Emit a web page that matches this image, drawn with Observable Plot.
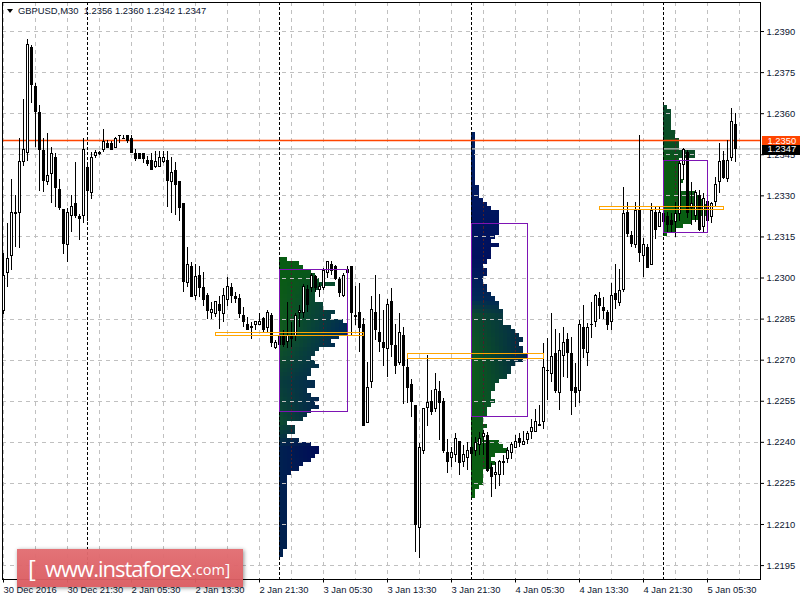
<!DOCTYPE html>
<html>
<head>
<meta charset="utf-8">
<script src="https://cdn.jsdelivr.net/npm/d3@7"></script>
<script src="https://cdn.jsdelivr.net/npm/@observablehq/plot@0.6"></script>
<style>
html,body{margin:0;padding:0;background:#fff;}
#wrap{position:relative;width:800px;height:600px;overflow:hidden;font-family:"Liberation Sans",Arial,sans-serif;}
#wrap svg{position:absolute;left:0;top:0;display:block;max-width:none;}
#head{position:absolute;left:18px;top:4px;font-size:9.4px;line-height:13px;color:#0b1530;white-space:pre;}
#tri{position:absolute;left:7px;top:9px;width:0;height:0;border-left:3.5px solid transparent;border-right:3.5px solid transparent;border-top:4px solid #000;}
#mark{position:absolute;left:17px;top:549px;width:226px;height:38px;background:linear-gradient(#e26e72,#db5c61);box-shadow:1px 1px 4px rgba(0,0,0,.45);color:#fff;font-family:"Open Sans",sans-serif;white-space:pre;opacity:.96;}
#mark span{position:absolute;top:3px;line-height:32px;}
</style>
</head>
<body>
<div id="wrap">
<div id="chart"></div>
<div id="tri"></div>
<div id="head">GBPUSD,M30  1.2356 1.2360 1.2342 1.2347</div>
<div id="mark"><span style="left:11px;font-size:24px;">[</span><span style="left:28px;font-size:22px;letter-spacing:-1px">www.instaforex</span><span style="left:175px;font-size:14.5px;top:5px">.com</span><span style="left:208px;font-size:16px;top:5px">]</span></div>
</div>
<script>
// Candle values: points above 1.2 (1 point = 0.00001)
const opens=[2881,3017,3079,3236,3239,3425,3458,3841,3699,3601,
3462,3349,3378,3440,3320,3250,3122,3228,3272,3221,
3228,3400,3309,3447,3451,3466,3491,3491,3476,3520,
3509,3520,3509,3451,3451,3451,3429,3429,3407,3407,
3425,3429,3349,3389,3352,3272,2980,3042,2936,3009,
2962,2933,2871,2867,2900,2867,2918,2962,2929,2922,
2860,2830,2820,2830,2830,2852,2816,2860,2746,2790,
2790,2768,2790,2787,2871,2871,2955,2965,3002,2958,
2962,3017,3049,3042,2991,2936,3031,3042,2860,2871,
2830,2469,2619,2871,2801,2761,2739,2911,2750,2688,
2790,2670,2611,2531,2089,2367,2527,2549,2520,2582,
2549,2360,2341,2352,2400,2327,2341,2378,2367,2389,
2418,2422,2308,2279,2279,2323,2338,2360,2378,2411,
2392,2407,2436,2436,2462,2473,2662,2648,2721,2579,
2717,2772,2721,2600,2586,2819,2728,2830,2838,2922,
2892,2871,2838,2940,2907,2958,3239,3152,3122,3246,
3079,3111,3049,3239,3188,3232,3221,3210,3206,3232,
3411,3458,3257,3228,3301,3188,3276,3221,3276,3349,
3429,3360,3440,3560];
const closes=[3009,3071,3239,3232,3422,3469,3849,3706,3608,3466,
3356,3371,3451,3327,3257,3126,3239,3261,3228,3217,
3469,3316,3440,3458,3458,3498,3476,3466,3509,3517,
3506,3502,3458,3436,3436,3436,3418,3396,3422,3440,
3440,3356,3382,3338,3257,2987,3049,2929,3002,2965,
2918,2878,2882,2911,2878,2933,2969,2936,2925,2867,
2838,2809,2816,2841,2841,2809,2871,2761,2761,2754,
2757,2790,2776,2860,2878,2969,2900,3009,2965,2969,
3027,3060,3027,2998,2947,3009,3017,2871,2856,2816,
2458,2600,2882,2809,2768,2746,2900,2757,2677,2801,
2677,2597,2546,2097,2381,2520,2542,2509,2590,2542,
2367,2327,2360,2411,2323,2352,2370,2356,2396,2411,
2432,2297,2272,2287,2327,2327,2367,2392,2400,2396,
2400,2432,2451,2473,2458,2670,2659,2710,2586,2732,
2761,2728,2586,2579,2830,2739,2819,2827,2933,2896,
2878,2827,2933,2918,2951,3232,3159,3126,3243,3090,
3122,3038,3246,3177,3239,3206,3195,3195,3235,3418,
3469,3239,3272,3312,3177,3290,3210,3272,3341,3422,
3367,3429,3571,3470];
const highs=[3090,3199,3360,3301,3509,3652,3871,3849,3710,3630,
3509,3528,3476,3455,3360,3250,3254,3301,3422,3232,
3509,3411,3458,3466,3462,3542,3502,3498,3513,3520,
3520,3520,3520,3469,3451,3451,3444,3455,3462,3462,
3462,3462,3440,3422,3352,3272,3111,3057,3049,3042,
3020,2944,2911,2911,2933,2962,3002,2980,2947,2940,
2892,2856,2838,2841,2871,2856,2882,2871,2772,2809,
2809,2911,2838,2871,2900,2976,2973,3017,3009,2980,
3035,3060,3060,3046,3002,3017,3042,3042,2969,2980,
2852,2692,2933,3009,2940,2882,2922,2962,2830,2871,
2819,2703,2630,2531,2396,2524,2717,2590,2652,2622,
2560,2411,2381,2432,2400,2389,2400,2414,2418,2436,
2444,2436,2323,2327,2334,2352,2381,2400,2425,2432,
2440,2440,2484,2520,2535,2761,2779,2871,2812,2798,
2819,2798,2783,2688,2845,2900,2834,2911,2940,2947,
2929,2882,2980,3049,3031,3330,3276,3170,3276,3520,
3144,3122,3272,3257,3257,3246,3239,3235,3276,3429,
3473,3466,3349,3320,3320,3309,3283,3276,3367,3491,
3462,3502,3619,3600];
const lows=[2867,2965,3027,3111,3108,3407,3425,3637,3476,3316,
3312,3338,3272,3257,3246,3086,3057,3166,3217,3137,
3199,3206,3287,3436,3447,3458,3473,3466,3473,3491,
3506,3491,3458,3425,3436,3418,3407,3396,3400,3407,
3418,3257,3235,3228,3206,2947,2965,2929,2918,2929,
2896,2849,2849,2856,2812,2838,2896,2907,2907,2852,
2820,2809,2776,2809,2830,2798,2798,2746,2739,2743,
2746,2743,2746,2768,2819,2852,2874,2947,2947,2929,
2955,2998,3009,2991,2929,2929,3017,2790,2827,2728,
2458,2469,2597,2772,2728,2677,2637,2710,2648,2681,
2538,2542,2491,1998,1976,2356,2458,2498,2509,2407,
2360,2287,2308,2327,2279,2308,2297,2297,2349,2352,
2352,2290,2199,2228,2239,2279,2323,2338,2378,2381,
2392,2392,2411,2436,2458,2447,2553,2619,2579,2516,
2637,2633,2498,2527,2542,2706,2677,2779,2819,2849,
2849,2809,2809,2885,2896,2947,3148,3111,3108,3057,
3002,3038,3049,3141,3184,3188,3162,3166,3148,3206,
3356,3217,3192,3203,3170,3166,3173,3199,3257,3309,
3360,3349,3425,3420];

// Market profiles: bar counts per 15-point price bin, from the top bin down
const profile1=[2,5,6,8,9,10,14,10,9,9,9,11,11,14,13,16,17,17,17,15,13,14,10,9,8,9,10,8,8,7,9,9,7,8,10,9,10,8,7,6,2,4,4,2,5,8,10,10,9,8,6,5,3,
2,2,2,2,2,2,2,2,2,2,2,2,2,2,2,2,2,2,1,1];
const profile2=[1,1,1,1,1,1,1,1,1,1,1,1,1,2,2,2,3,4,5,7,7,7,7,7,7,6,5,7,5,5,5,4,3,4,4,3,3,4,4,5,6,7,7,8,8,8,8,10,11,12,13,12,13,13,14,13,11,10,10,9,7,6,6,5,5,6,5,4,4,3,3,4,3,3,3,7,8,9,6,5,6,5,3,3,3,3,2,1,1];
const profile3=[1,2,2,2,2,2,3,3,4,4,4,8,8,4,4,4,4,4,5,4,4,8,9,10,11,11,11,9,7,5,3,1];
const profileStart=[69,117,165];
const profileTop=[3075,3531,3630];
const profileMaxCol=[14,14,11];
const leftStops=[
 {rows:[0,18,30,40,46,72],colors:["#075c12","#115a1e","#083c3c","#0b4a30","#002050","#00204e"]},
 {rows:[0,30,40,44,56,70,88],colors:["#002060","#00105e","#002a56","#0d4a2c","#0e5a1c","#0a5a14","#0a6010"]},
 {rows:[0,10,14,31],colors:["#0b4a2c","#0a5020","#0a5c12","#066010"]}];
const rightStops=[
 {rows:[0,10,18,30,46,72],colors:["#075c12","#063a40","#002e50","#00205a","#00005c","#00204e"]},
 {rows:[0,30,44,56,66,75,88],colors:["#002060","#000e5c","#002850","#00204c","#04404a","#0a5a14","#0a6010"]},
 {rows:[0,12,14,31],colors:["#0b4a2c","#0b4a2c","#0a5a18","#0a5c12"]}];
// Value area boxes and point-of-control boxes
const vaStart=[69,117,165], vaEnd=[86,131,176], vaHigh=[3031,3199,3429], vaLow=[2510,2491,3163];
const pocStart=[53,101,149], pocEnd=[90,135,180], pocHigh=[2801,2721,3261], pocLow=[2790,2706,3250];

const priceTicks=[1.2390,1.2375,1.2360,1.2345,1.2330,1.2315,1.2300,1.2285,1.2270,1.2255,1.2240,1.2225,1.2210,1.2195];
const timeTickBars=[0,16,32,48,64,80,96,112,128,144,160,176];
const timeTickLabels=["30 Dec 2016","30 Dec 21:30","2 Jan 05:30","2 Jan 13:30","2 Jan 21:30","3 Jan 05:30","3 Jan 13:30","3 Jan 21:30","4 Jan 05:30","4 Jan 13:30","4 Jan 21:30","5 Jan 05:30"];
const gridBars=d3.range(0,189,8);
const daySeparators=[21,69,117,165];
const bidLine=1.2350, askLine=1.2347;

const price=v=>1.2+v/1e5;
const candles=opens.map((o,i)=>({i,o:price(o),c:price(closes[i]),h:price(highs[i]),l:price(lows[i])}));
const cells=[profile1,profile2,profile3].flatMap((counts,p)=>{
  const L=d3.scaleLinear(leftStops[p].rows,leftStops[p].colors).interpolate(d3.interpolateRgb).clamp(true);
  const R=d3.scaleLinear(rightStops[p].rows,rightStops[p].colors).interpolate(d3.interpolateRgb).clamp(true);
  return counts.flatMap((n,row)=>d3.range(n).map(col=>({
    x1:profileStart[p]+col,x2:profileStart[p]+col+1,
    y1:price(profileTop[p]-row*15),y2:price(profileTop[p]-(row+1)*15),
    fill:d3.interpolateRgb(L(row),R(row))(col/profileMaxCol[p])
  })));
});
const boxes=(s,e,h,l)=>s.map((d,k)=>({x1:d,x2:e[k],y1:price(h[k]),y2:price(l[k])}));

const fontFam='"Liberation Sans",Arial,sans-serif';
const crisp={shapeRendering:"crispEdges"};
const gridStyle={stroke:"#c0c0c0",strokeOpacity:1,strokeDasharray:"4,4",...crisp};
const chart=Plot.plot({
  width:800,height:600,
  marginLeft:2,marginRight:40,marginTop:2,marginBottom:21.5,
  style:{background:"#fff",fontFamily:fontFam,overflow:"visible"},
  x:{domain:[-0.25,189.25],range:[2,760]},
  y:{domain:[1.21901,1.24006],range:[578.5,2]},
  color:{type:"identity"},
  marks:[
    Plot.ruleX(gridBars,{...gridStyle}),
    Plot.rect(cells,{x1:"x1",x2:"x2",y1:"y1",y2:"y2",fill:"fill",...crisp}),
    Plot.ruleX(cells.filter(c=>gridBars.includes(c.x1)),{x:"x1",y1:"y1",y2:"y2",stroke:"#4a1f2a",strokeDasharray:"2,2",...crisp}),
    Plot.ruleY(priceTicks,{...gridStyle}),
    Plot.ruleY([askLine],{stroke:"#c0c0c0",strokeWidth:1.3,dy:-0.5}),
    Plot.ruleY([bidLine],{stroke:"#ff4500",strokeWidth:1.5,dy:-0.5}),
    Plot.ruleX(candles,{x:"i",y1:"l",y2:"h",stroke:"#000",strokeWidth:1,...crisp}),
    Plot.rect(candles,{x1:d=>d.i-0.25,x2:d=>d.i+0.25,y1:"o",y2:"c",fill:d=>d.c>=d.o?"#fff":"#000",stroke:"#000",strokeWidth:1,...crisp}),
    Plot.ruleX(daySeparators,{stroke:"#000",strokeWidth:1,strokeDasharray:"3,2",...crisp}),
    Plot.rect(boxes(vaStart,vaEnd,vaHigh,vaLow),{x1:"x1",x2:"x2",y1:"y1",y2:"y2",fill:"none",stroke:"#7d14b4",strokeWidth:1,...crisp}),
    Plot.rect(boxes(pocStart,pocEnd,pocHigh,pocLow),{x1:"x1",x2:"x2",y1:"y1",y2:"y2",fill:"none",stroke:"#ffa500",strokeWidth:1,...crisp}),
    Plot.frame({stroke:"#000",strokeWidth:1,...crisp}),
    Plot.axisY({anchor:"right",ticks:priceTicks,tickFormat:d3.format(".4f"),tickSize:3,tickPadding:3,fontSize:9.4,label:null,textAnchor:"start",stroke:"#000",fill:"#0b1530"}),
    Plot.axisX({anchor:"bottom",ticks:timeTickBars,tickFormat:d=>timeTickLabels[timeTickBars.indexOf(d)],tickSize:4,tickPadding:3,fontSize:9.4,label:null,textAnchor:"start",stroke:"#000",fill:"#0b1530",lineAnchor:"top"}),
    Plot.rect([{y1:price(3518),y2:price(3484),f:"#ff4500"},{y1:price(3484),y2:price(3447),f:"#000"}],{x1:189.75,x2:199.25,y1:"y1",y2:"y2",fill:"f",...crisp}),
    Plot.text([bidLine,askLine],{x:191,y:d=>d,text:d=>d3.format(".4f")(d),fill:"#fff",fontSize:9.4,textAnchor:"start"})
  ]
});
document.getElementById("chart").appendChild(chart);
</script>
</body>
</html>
